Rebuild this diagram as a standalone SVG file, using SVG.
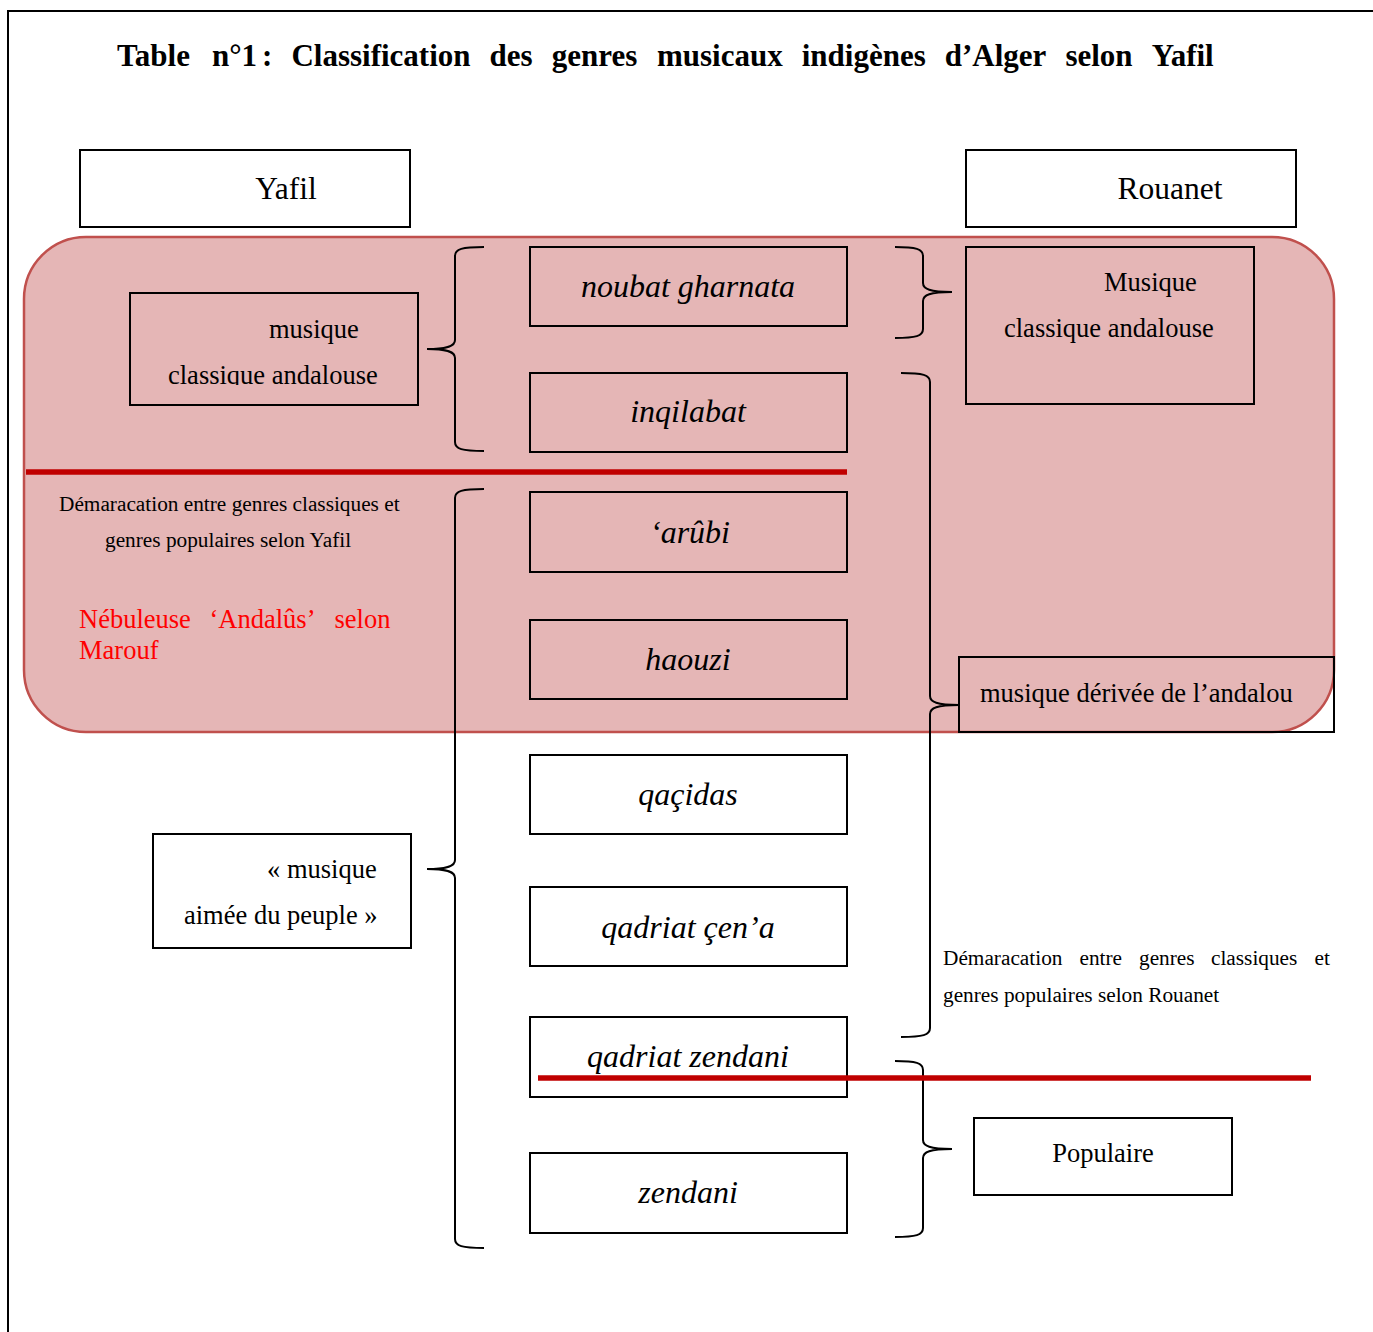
<svg xmlns="http://www.w3.org/2000/svg" width="1373" height="1332" viewBox="0 0 1373 1332">
<style>
.t{font-family:"Liberation Serif","Times New Roman",serif;fill:#000}
.b{fill:none;stroke:#000;stroke-width:2}
.g{font-size:32px;font-style:italic;text-anchor:middle}
.n{font-size:26.5px}
.s{font-size:21.3px}
.rt{fill:#ff0000}
.br{fill:none;stroke:#000;stroke-width:2}
.red{stroke:#c00000;stroke-width:5.5}
</style>
<defs>
<clipPath id="clipL"><rect x="131" y="295" width="286" height="90"/></clipPath>
</defs>
<rect x="0" y="0" width="1373" height="1332" fill="#fff"/>
<g id="frame">
<path d="M8,1332 V11 H1373" fill="none" stroke="#000" stroke-width="2"/>
</g>
<g id="title">
<text class="t" y="66" font-size="31" font-weight="bold"><tspan x="117">Table</tspan> <tspan x="211.9">n°1</tspan> <tspan x="262">:</tspan> <tspan x="291.4">Classification</tspan> <tspan x="489.6">des</tspan> <tspan x="551.7">genres</tspan> <tspan x="656.9">musicaux</tspan> <tspan x="801.7">indigènes</tspan> <tspan x="944.8">d’Alger</tspan> <tspan x="1065.4">selon</tspan> <tspan x="1151.7">Yafil</tspan></text>
</g>
<g id="nebuleuse">
<rect x="24" y="237" width="1310" height="495" rx="62" ry="62" fill="#e5b6b6" stroke="#c0504d" stroke-width="2.5"/>
</g>
<g id="yafil">
<rect class="b" x="80" y="150" width="330" height="77"/>
<text class="t" x="286" y="199" font-size="31.5" text-anchor="middle">Yafil</text>
</g>
<g id="rouanet">
<rect class="b" x="966" y="150" width="330" height="77"/>
<text class="t" x="1170" y="199" font-size="31.5" text-anchor="middle">Rouanet</text>
</g>
<g id="yafil-classique">
<rect class="b" x="130" y="293" width="288" height="112"/>
<text class="t n" x="269" y="338">musique</text>
<text class="t n" x="168" y="384" clip-path="url(#clipL)">classique andalouse</text>
</g>
<g id="rouanet-classique">
<rect class="b" x="966" y="247" width="288" height="157"/>
<text class="t n" x="1104" y="291">Musique</text>
<text class="t n" x="1004" y="337">classique andalouse</text>
</g>
<g id="rouanet-derivee">
<rect class="b" x="959" y="657" width="375" height="75"/>
<text class="t n" x="980" y="702">musique dérivée de l’andalou</text>
</g>
<g id="yafil-populaire">
<rect class="b" x="153" y="834" width="258" height="114"/>
<text class="t n" x="267" y="878">« musique</text>
<text class="t n" x="184" y="924">aimée du peuple »</text>
</g>
<g id="rouanet-populaire">
<rect class="b" x="974" y="1118" width="258" height="77"/>
<text class="t n" x="1103" y="1162" text-anchor="middle">Populaire</text>
</g>
<g id="noubat">
<rect class="b" x="530" y="247" width="317" height="79"/>
<text class="t g" x="688" y="297">noubat gharnata</text>
</g>
<g id="inqilabat">
<rect class="b" x="530" y="373" width="317" height="79"/>
<text class="t g" x="688" y="422">inqilabat</text>
</g>
<g id="arubi">
<rect class="b" x="530" y="492" width="317" height="80"/>
<text class="t g" x="690" y="543">‘arûbi</text>
</g>
<g id="haouzi">
<rect class="b" x="530" y="620" width="317" height="79"/>
<text class="t g" x="688" y="670">haouzi</text>
</g>
<g id="qacidas">
<rect class="b" x="530" y="755" width="317" height="79"/>
<text class="t g" x="688" y="805">qaçidas</text>
</g>
<g id="qadriat-cena">
<rect class="b" x="530" y="887" width="317" height="79"/>
<text class="t g" x="688" y="938">qadriat çen’a</text>
</g>
<g id="qadriat-zendani">
<rect class="b" x="530" y="1017" width="317" height="80"/>
<text class="t g" x="688" y="1067">qadriat zendani</text>
</g>
<g id="zendani">
<rect class="b" x="530" y="1153" width="317" height="80"/>
<text class="t g" x="688" y="1203">zendani</text>
</g>
<g id="labels">
<text class="t s" x="59" y="511">Démaracation entre genres classiques et</text>
<text class="t s" x="105" y="547">genres populaires selon Yafil</text>
<text class="t n rt" y="628"><tspan x="79">Nébuleuse</tspan> <tspan x="209.5">‘Andalûs’</tspan> <tspan x="334.5">selon</tspan></text>
<text class="t n rt" x="79" y="659">Marouf</text>
<text class="t s" y="965"><tspan x="943">Démaracation</tspan> <tspan x="1079.5">entre</tspan> <tspan x="1139">genres</tspan> <tspan x="1211">classiques</tspan> <tspan x="1314.5">et</tspan></text>
<text class="t s" x="943" y="1002">genres populaires selon Rouanet</text>
</g>
<g id="connectors">
<path class="br" d="M484,247 C462,247 455,249 455,256 V340 C455,346 448,349 427,349 C448,349 455,352 455,358 V442 C455,449 462,451 484,451"/>
<path class="br" d="M484,489 C462,489 455,491 455,498 V860 C455,866 448,869 427,869 C448,869 455,872 455,878 V1239 C455,1246 462,1248 484,1248"/>
<path class="br" d="M895,247 C916,247 923,249 923,256 V283 C923,289 930,292 952,292 C930,292 923,295 923,301 V329 C923,336 916,338 895,338"/>
<path class="br" d="M901,373 C923,373 930,375 930,382 V696 C930,702 937,705 959,705 C937,705 930,708 930,714 V1028 C930,1035 923,1037 901,1037"/>
<path class="br" d="M895,1061 C916,1061 923,1063 923,1070 V1140 C923,1146 930,1149 952,1149 C930,1149 923,1152 923,1158 V1228 C923,1235 916,1237 895,1237"/>
<line class="red" x1="26" y1="472" x2="847" y2="472"/>
<line class="red" x1="538" y1="1078" x2="1311" y2="1078"/>
</g>
</svg>
